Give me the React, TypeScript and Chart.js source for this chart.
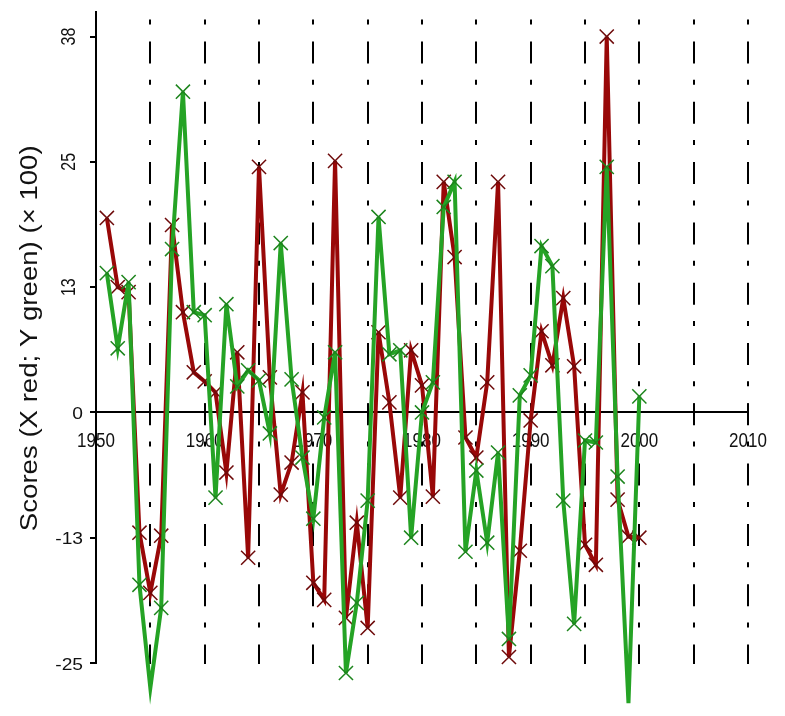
import React, { useEffect, useRef } from 'react';
import { Chart, registerables } from 'chart.js';

Chart.register(...registerables);

// ---- data ----
const years = [
  1951, 1952, 1953, 1954, 1955, 1956, 1957, 1958, 1959, 1960,
  1961, 1962, 1963, 1964, 1965, 1966, 1967, 1968, 1969, 1970,
  1971, 1972, 1973, 1974, 1975, 1976, 1977, 1978, 1979, 1980,
  1981, 1982, 1983, 1984, 1985, 1986, 1987, 1988, 1989, 1990,
  1991, 1992, 1993, 1994, 1995, 1996, 1997, 1998, 1999, 2000,
];

// X scores (red)
const xScores = [
  19.4, 12.5, 12.0, -12.0, -18.0, -12.3, 18.7, 10.0, 4.0, 3.1,
  2.0, -6.0, 6.0, -14.5, 24.5, 3.5, -8.2, -5.0, 2.0, -17.0,
  -18.7, 25.1, -20.5, -11.0, -21.5, 8.0, 1.0, -8.5, 6.2, 2.7,
  -8.4, 23.0, 15.5, -2.5, -4.5, 3.0, 23.0, -24.4, -13.8, -0.8,
  8.1, 4.7, 11.4, 4.6, -13.2, -15.2, 37.5, -8.7, -12.4, -12.5,
];

// Y scores (green)
const yScores = [
  13.9, 6.4, 13.0, -17.2, -27.5, -19.5, 16.3, 32.0, 10.0, 9.7,
  -8.5, 10.8, 2.6, 4.2, 3.2, -2.1, 16.9, 3.3, -4.5, -10.6,
  -0.5, 6.0, -26.0, -19.0, -8.8, 19.5, 5.8, 6.2, -12.5, 0.0,
  3.0, 20.5, 23.0, -13.9, -5.8, -13.0, -4.0, -22.6, 1.7, 3.7,
  16.6, 14.6, -8.8, -21.1, -2.8, -3.0, 24.5, -6.4, -29.0, 1.6,
];

const xTickValues = [1950, 1960, 1970, 1980, 1990, 2000, 2010];
const xTickLabels = ['1950', '1960', '1970', '1980', '1990', '2000', '2010'];
const gridYears = [1955, 1960, 1965, 1970, 1975, 1980, 1985, 1990, 1995, 2000, 2005, 2010];
const yTickValues = [-25, -12.5, 0, 12.5, 25, 37.5];
const yTickLabels = ['-25', '-13', '0', '13', '25', '38'];
const yAxisTitle = 'Scores (X red; Y green) (\u00d7 100)';

const X_MIN = 1950;
const X_MAX = 2010;
const Y_MIN = -25;
const Y_MAX = 40;

const RED = '#990808';
const GREEN = '#25a325';
const FONT = '"Liberation Sans", Arial, sans-serif';

const decorPlugin = {
  id: 'decor',
  beforeDatasetsDraw(chart: any) {
    const { ctx, chartArea, scales } = chart;
    const x = scales.x;
    const y = scales.y;
    const y0 = y.getPixelForValue(0);
    ctx.save();
    // dash-dot vertical lines
    ctx.strokeStyle = '#000';
    ctx.lineWidth = 2;
    ctx.setLineDash([5, 17, 22, 16.3]);
    ctx.lineDashOffset = 52.3;
    gridYears.forEach((yr) => {
      const px = Math.round(x.getPixelForValue(yr));
      ctx.beginPath();
      ctx.moveTo(px, chartArea.top);
      ctx.lineTo(px, chartArea.bottom + 1);
      ctx.stroke();
    });
    // tick marks crossing the zero axis
    ctx.setLineDash([]);
    gridYears.forEach((yr) => {
      const px = Math.round(x.getPixelForValue(yr));
      ctx.beginPath();
      ctx.moveTo(px, y0 - 9);
      ctx.lineTo(px, y0 + 9);
      ctx.stroke();
    });
    // x tick labels (under the data lines)
    ctx.fillStyle = '#111';
    ctx.font = `20px ${FONT}`;
    ctx.textAlign = 'center';
    ctx.textBaseline = 'alphabetic';
    xTickValues.forEach((v, i) => {
      const px = x.getPixelForValue(v);
      ctx.save();
      ctx.translate(px, y0 + 35);
      ctx.scale(0.85, 1);
      ctx.fillText(xTickLabels[i], 0, 0);
      ctx.restore();
    });
    ctx.restore();
  },
  afterDraw(chart: any) {
    const { ctx, chartArea, scales } = chart;
    const y = scales.y;
    ctx.save();
    ctx.fillStyle = '#111';
    // y tick labels
    yTickValues.forEach((v, i) => {
      const py = y.getPixelForValue(v);
      ctx.save();
      if (v > 0) {
        ctx.font = `20px ${FONT}`;
        ctx.translate(75, py);
        ctx.rotate(-Math.PI / 2);
        ctx.scale(0.8, 1);
        ctx.textAlign = 'center';
        ctx.textBaseline = 'alphabetic';
        ctx.fillText(yTickLabels[i], 0, 0);
      } else {
        ctx.font = `16px ${FONT}`;
        ctx.translate(83, py + 6.5);
        ctx.scale(1.2, 1);
        ctx.textAlign = 'right';
        ctx.textBaseline = 'alphabetic';
        ctx.fillText(yTickLabels[i], 0, 0);
      }
      ctx.restore();
    });
    // y axis title
    ctx.save();
    ctx.font = `23px ${FONT}`;
    ctx.translate(37, (chartArea.top + chartArea.bottom) / 2 + 1);
    ctx.rotate(-Math.PI / 2);
    ctx.scale(1.2, 1);
    ctx.textAlign = 'center';
    ctx.textBaseline = 'alphabetic';
    ctx.fillText(yAxisTitle, 0, 0);
    ctx.restore();
    ctx.restore();
  },
};

export default function App() {
  const canvasRef = useRef<HTMLCanvasElement | null>(null);

  useEffect(() => {
    const canvas = canvasRef.current;
    if (!canvas) return;
    const redData = years.map((yr, i) => ({ x: yr, y: xScores[i] }));
    const greenData = years.map((yr, i) => ({ x: yr, y: yScores[i] }));
    const chart = new Chart(canvas, {
      type: 'line',
      data: {
        datasets: [
          {
            label: 'X',
            data: redData,
            borderColor: RED,
            backgroundColor: RED,
            borderWidth: 4,
            tension: 0,
            pointStyle: 'crossRot',
            pointRadius: 10,
            pointBorderWidth: 1.5,
            pointBorderColor: '#6e0a0a',
            clip: false,
            order: 1,
          },
          {
            label: 'Y',
            data: greenData,
            borderColor: GREEN,
            backgroundColor: GREEN,
            borderWidth: 4,
            tension: 0,
            pointStyle: 'crossRot',
            pointRadius: 10,
            pointBorderWidth: 1.5,
            pointBorderColor: '#1d851d',
            clip: false,
            order: 0,
          },
        ],
      },
      options: {
        responsive: false,
        animation: false,
        events: [],
        layout: { padding: { top: 10, right: 37, bottom: 53, left: 0 } },
        plugins: {
          legend: { display: false },
          tooltip: { enabled: false },
          title: { display: false },
        },
        scales: {
          x: {
            type: 'linear',
            position: { y: 0 },
            min: X_MIN,
            max: X_MAX,
            afterBuildTicks: (s: any) => {
              s.ticks = xTickValues.map((v) => ({ value: v }));
            },
            ticks: { display: false },
            grid: { display: false, drawTicks: false },
            border: { display: true, color: '#000', width: 2 },
          },
          y: {
            type: 'linear',
            position: 'left',
            min: Y_MIN,
            max: Y_MAX,
            afterBuildTicks: (s: any) => {
              s.ticks = yTickValues.map((v) => ({ value: v }));
            },
            afterFit: (s: any) => {
              s.width = 96;
            },
            ticks: { display: false },
            grid: {
              display: true,
              drawOnChartArea: false,
              drawTicks: true,
              tickLength: 6,
              color: '#000',
              lineWidth: 2,
            },
            border: { display: true, color: '#000', width: 2 },
          },
        },
      },
      plugins: [decorPlugin],
    } as any);
    return () => {
      chart.destroy();
    };
  }, []);

  return (
    <div style={{ position: 'fixed', left: 0, top: 0, width: 785, height: 716, background: '#fff' }}>
      <canvas ref={canvasRef} width={785} height={716} style={{ display: 'block' }} />
    </div>
  );
}
